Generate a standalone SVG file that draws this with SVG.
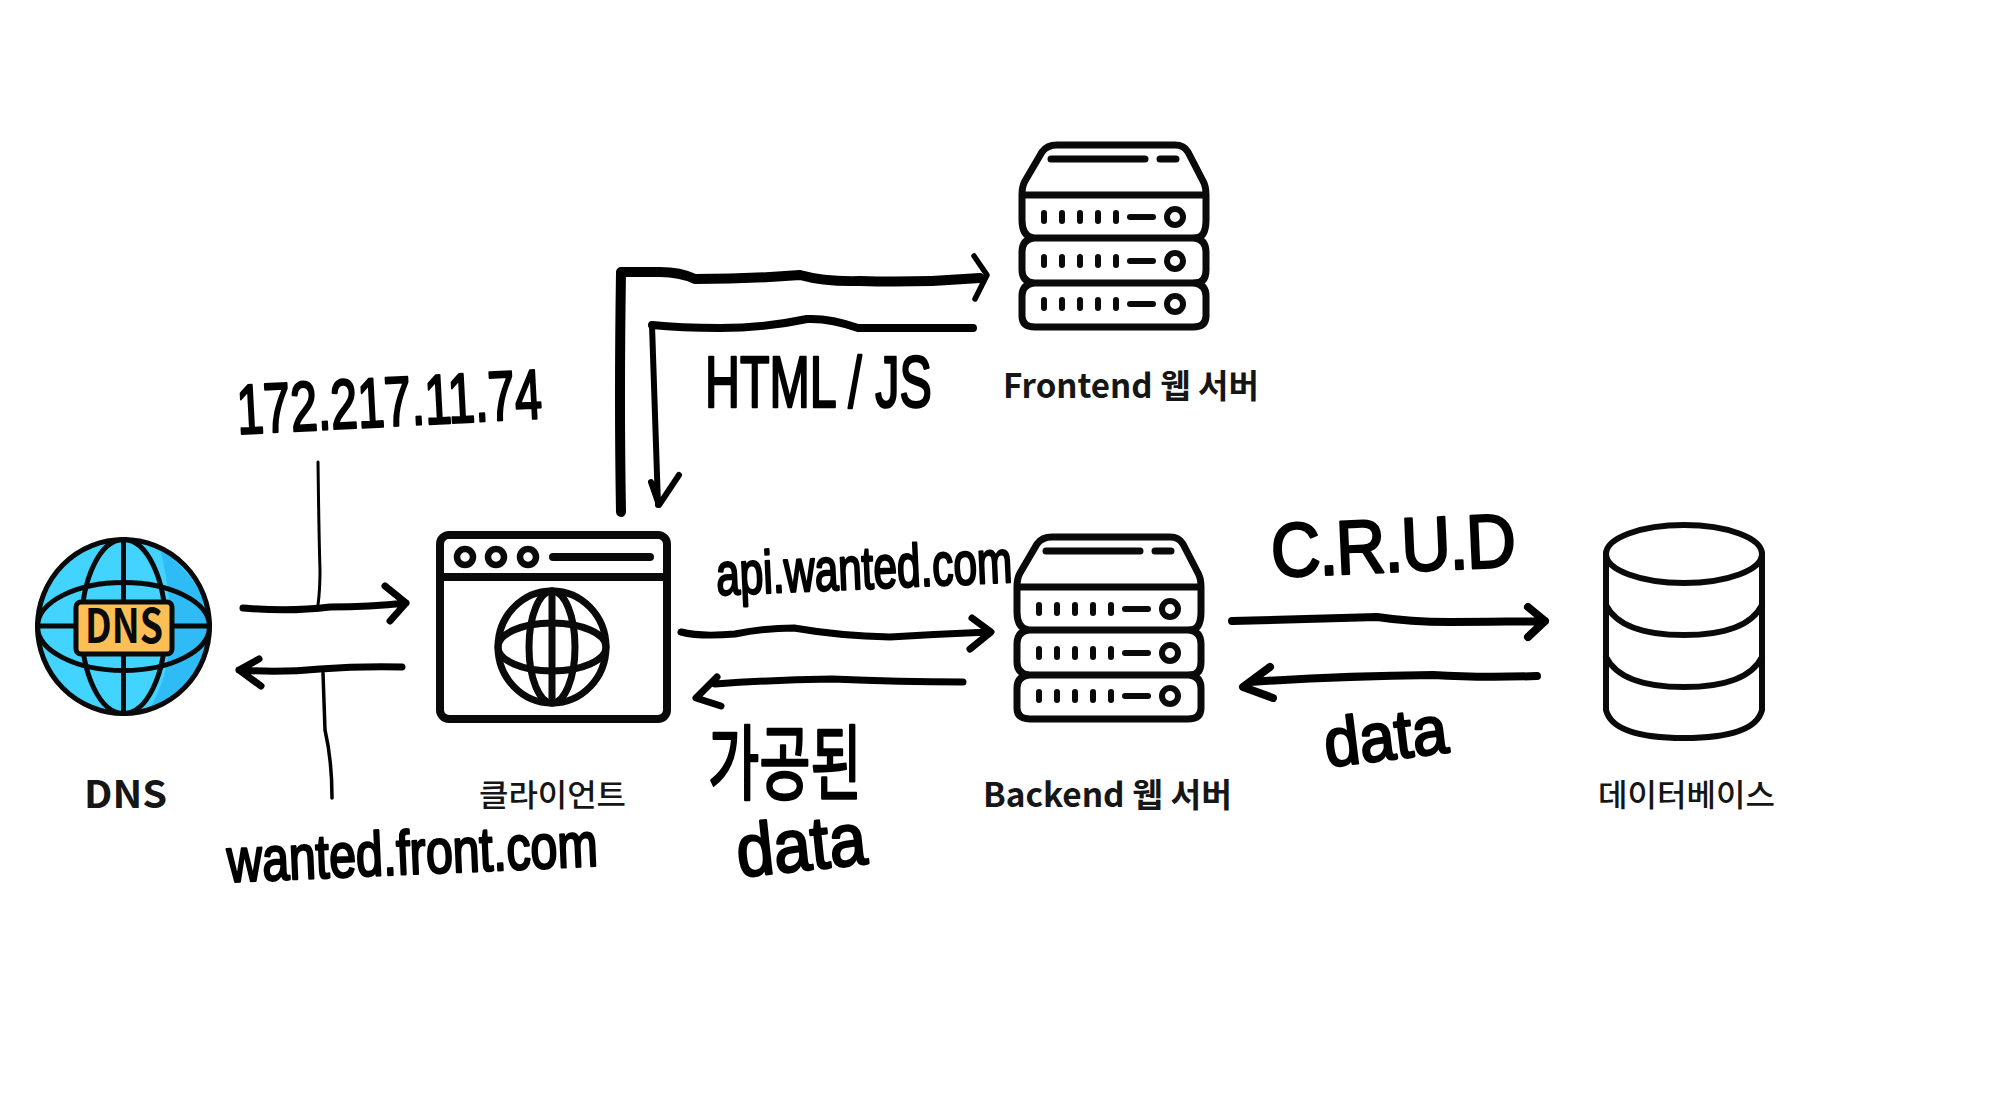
<svg xmlns="http://www.w3.org/2000/svg" width="2000" height="1116" viewBox="0 0 2000 1116">
<style>
.i{fill:none;stroke:#0a0a0a;stroke-linecap:round;stroke-linejoin:round}
.w{fill:#fff}
.c{fill:none;stroke:#000;stroke-linecap:round;stroke-linejoin:round}
.lb{font-family:"Noto Sans CJK KR","Noto Sans",sans-serif;fill:#161616}
.h{font-family:"Liberation Sans","Noto Sans CJK KR",sans-serif;fill:#000;stroke:#000;stroke-width:2.500;stroke-linejoin:round}
</style>
<defs>
<g id="srv">
<path class="i w" stroke-width="7" d="M1023 195 Q1023 186 1026 181 L1043 152 Q1048 145 1058 145 H1176 Q1185 145 1189 152 L1204 181 Q1207 186 1207 195 V220 Q1207 238 1196 238 Q1207 240 1207 252 V270 Q1207 283 1196 283 Q1207 285 1207 296 V316 Q1207 327 1194 327 H1036 Q1023 327 1023 316 V296 Q1023 285 1034 283 Q1023 281 1023 270 V252 Q1023 240 1034 238 Q1023 236 1023 220 Z"/>
<path class="i" stroke-width="7" d="M1024 195 H1206 M1030 238 H1200 M1030 283 H1200"/>
<path class="i" stroke-width="7" d="M1052 159 H1146 M1161 159 H1177"/>
<g id="row">
<path class="i" stroke-width="6" d="M1045 213 V221 M1063 213 V221 M1081 213 V221 M1099 213 V221 M1117 213 V221"/>
<path class="i" stroke-width="6" d="M1131 217 H1154"/>
<circle class="i" stroke-width="6" cx="1176" cy="217" r="8"/>
</g>
<use href="#row" y="44"/>
<use href="#row" y="87"/>
</g>
</defs>
<rect width="2000" height="1116" fill="#fff"/>

<g id="connectors">
<path class="c" stroke-width="3" d="M318 462 Q319 540 320 570 Q320 590 318 605"/>
<path class="c" stroke-width="3.500" d="M323 673 L325 730 Q332 760 332 798"/>
<path class="c" stroke-width="7" d="M243 608 Q290 612 330 607 Q370 607 406 603 M385 586 L406 603 L390 621"/>
<path class="c" stroke-width="7" d="M402 667 Q360 666 320 669 Q280 673 239 670 M259 659 L239 670 L261 686"/>
<path class="c" stroke-width="10" d="M621 512 Q619 400 621 272 H660 Q680 272 695 279 Q750 279 800 275 Q825 282 860 281 Q920 283 980 278"/>
<path class="c" stroke-width="5.500" d="M974 256 L987 275 L975 299"/>
<path class="c" stroke-width="8" d="M973 328 H858 Q830 318 807 319 Q765 328 720 328 Q680 328 652 325"/>
<path class="c" stroke-width="6" d="M652 325 Q655 420 658 505 M651 482 L659 505 L679 475"/>
<path class="c" stroke-width="7" d="M681 632 Q700 637 735 634 Q765 628 794 628 Q840 636 890 637 Q940 634 989 632 M972 618 L991 632 L970 649"/>
<path class="c" stroke-width="7" d="M963 682 Q900 682 832 679 Q770 680 715 684 M717 677 L696 698 L721 706"/>
<path class="c" stroke-width="8" d="M1232 621 Q1300 619 1377 617 Q1410 622 1450 622 Q1500 622 1545 621 M1528 607 L1545 621 L1528 637"/>
<path class="c" stroke-width="8" d="M1537 676 Q1480 678 1433 675 Q1340 676 1250 682 M1270 667 L1243 687 L1273 698"/>
</g>

<g id="dns">
<ellipse cx="123.500" cy="626.500" rx="86" ry="87" fill="#42d3ff"/>
<path d="M160 548 Q215 590 208 640 Q200 695 150 708 Q185 650 160 548Z" fill="#2fbcf6"/>
<g class="i" stroke-width="5">
<ellipse cx="123.500" cy="626.500" rx="86" ry="87"/>
<ellipse cx="123.500" cy="626.500" rx="42" ry="87"/>
<ellipse cx="123.500" cy="626.500" rx="86" ry="44"/>
<path d="M123.500 540 V713 M38 626 H209"/>
</g>
<rect x="76" y="602" width="96" height="52" rx="5" fill="#fdbf55" stroke="#0a0a0a" stroke-width="5"/>
<text class="lb" x="85" y="643" font-size="47" font-weight="700" textLength="78" lengthAdjust="spacingAndGlyphs" style="fill:#0a0a0a">DNS</text>
<text class="lb" x="84" y="808" font-size="38" font-weight="700" textLength="83" lengthAdjust="spacingAndGlyphs">DNS</text>
</g>

<g id="client">
<rect class="i" x="440" y="535" width="227" height="184" rx="9" stroke-width="8"/>
<path class="i" stroke-width="8" d="M440 577 H667"/>
<circle class="i" cx="465" cy="557" r="8" stroke-width="6.500"/>
<circle class="i" cx="496" cy="557" r="8" stroke-width="6.500"/>
<circle class="i" cx="528" cy="557" r="8" stroke-width="6.500"/>
<path class="i" stroke-width="8" d="M553 557 H650"/>
<g class="i" stroke-width="7">
<ellipse cx="552" cy="647" rx="54" ry="56"/>
<ellipse cx="552" cy="647" rx="23" ry="56"/>
<ellipse cx="552" cy="647" rx="54" ry="24"/>
<path d="M552 591 V703"/>
</g>
<text class="lb" x="479" y="806" font-size="31" font-weight="500" textLength="147" lengthAdjust="spacingAndGlyphs">클라이언트</text>
</g>

<g id="frontend">
<use href="#srv" transform="translate(-1,0)"/>
<text class="lb" x="1003" y="398" font-size="33" font-weight="700" textLength="256" lengthAdjust="spacingAndGlyphs">Frontend 웹 서버</text>
</g>

<g id="backend">
<use href="#srv" transform="translate(-6,392)"/>
<text class="lb" x="983" y="807" font-size="33" font-weight="700" textLength="249" lengthAdjust="spacingAndGlyphs">Backend 웹 서버</text>
</g>

<g id="database">
<g class="i" stroke-width="6">
<ellipse cx="1684" cy="554" rx="78" ry="29"/>
<path d="M1606 554 V710 Q1613 738 1684 738 Q1755 738 1762 710 V554"/>
<path d="M1606 605 Q1621 635 1684 635 Q1747 635 1762 605"/>
<path d="M1606 657 Q1621 687 1684 687 Q1747 687 1762 657"/>
</g>
<text class="lb" x="1598" y="806" font-size="31" font-weight="500" textLength="177" lengthAdjust="spacingAndGlyphs">데이터베이스</text>
</g>

<g id="labels">
<text class="h" transform="translate(238,434) rotate(-3) scale(.69,1)" font-size="70">172.217.11.74</text>
<text class="h" transform="translate(228,882) rotate(-2.500) scale(.78,1)" font-size="62">wanted.front.com</text>
<text class="h" transform="translate(705,407) scale(.672,1)" font-size="72">HTML / JS</text>
<text class="h" transform="translate(717,595) rotate(-2.500) scale(.705,1)" font-size="60">api.wanted.com</text>
<text class="h" transform="translate(708,793) scale(.68,1)" font-size="82" style="font-family:'Noto Sans CJK KR',sans-serif">가공된</text>
<text class="h" transform="translate(739,877) rotate(-6) scale(.905,1)" font-size="74">data</text>
<text class="h" transform="translate(1272,577) rotate(-2.500) scale(.905,1)" font-size="76" style="letter-spacing:-2px">C.R.U.D</text>
<text class="h" transform="translate(1327,767) rotate(-7) scale(.935,1)" font-size="68">data</text>
</g>
</svg>
